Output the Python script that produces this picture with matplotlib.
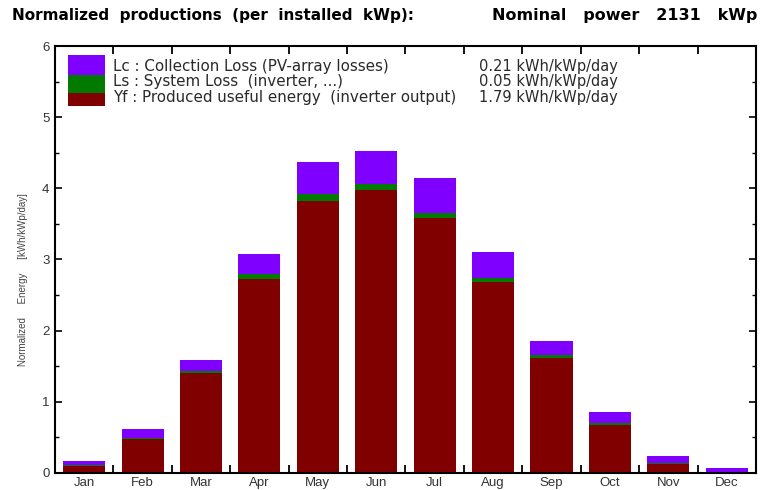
import numpy as np
import matplotlib.pyplot as plt
from matplotlib.patches import Rectangle

plt.rcParams['font.family'] = ['Liberation Sans', 'DejaVu Sans']

months = ["Jan", "Feb", "Mar", "Apr", "May", "Jun",
          "Jul", "Aug", "Sep", "Oct", "Nov", "Dec"]
# kWh/kWp/day
yf = [0.10, 0.47, 1.40, 2.73, 3.82, 3.97, 3.58, 2.68, 1.62, 0.67, 0.13, 0.01]
ls = [0.01, 0.02, 0.03, 0.06, 0.10, 0.09, 0.07, 0.06, 0.04, 0.03, 0.01, 0.00]
lc = [0.06, 0.12, 0.16, 0.29, 0.45, 0.47, 0.49, 0.37, 0.19, 0.15, 0.10, 0.06]

legend_labels = ["Lc : Collection Loss (PV-array losses)",
                 "Ls : System Loss  (inverter, ...)",
                 "Yf : Produced useful energy  (inverter output)"]
legend_values = ["0.21 kWh/kWp/day", "0.05 kWh/kWp/day", "1.79 kWh/kWp/day"]

title_left = "Normalized  productions  (per  installed  kWp):"
title_right = "Nominal   power   2131   kWp"

c_lc = "#8000ff"
c_ls = "#007a00"
c_yf = "#800000"

fig = plt.figure(figsize=(7.64, 4.90), dpi=100)
ax = fig.add_axes([0.072, 0.035, 0.9175, 0.871])

x = np.arange(len(months))
yf_a = np.array(yf)
ls_a = np.array(ls)
lc_a = np.array(lc)
w = 0.72
ax.bar(x, yf_a, w, color=c_yf, linewidth=0)
ax.bar(x, ls_a, w, bottom=yf_a, color=c_ls, linewidth=0)
ax.bar(x, lc_a, w, bottom=yf_a + ls_a, color=c_lc, linewidth=0)

ax.set_xlim(-0.5, 11.5)
ax.set_ylim(0, 6)

# month names centred under bars, tick marks on month boundaries
ax.set_xticks(np.arange(0.5, 11.5, 1.0))
ax.set_xticklabels([])
ax.set_xticks(x, minor=True)
ax.set_xticklabels(months, minor=True)
ax.tick_params(axis='x', which='major', direction='in', length=6, width=1.3,
               top=True, bottom=True)
ax.tick_params(axis='x', which='minor', length=0, pad=3, labelsize=9.5,
               labelcolor='#333333')

ax.set_yticks(range(0, 7))
ax.set_yticks(np.arange(0.5, 6, 1.0), minor=True)
ax.tick_params(axis='y', which='major', direction='in', length=5, width=1.2,
               left=True, right=True, labelsize=9.5, labelcolor='#333333', pad=4)
ax.tick_params(axis='y', which='minor', direction='in', length=3, width=1.0,
               left=True, right=True)

for s in ax.spines.values():
    s.set_linewidth(1.5)

# legend block drawn by hand: one swatch split in three colours
swatch_x, swatch_w = 0.0185, 0.0525
swatch_edges = [0.979, 0.932, 0.890, 0.859]
for i, col in enumerate([c_lc, c_ls, c_yf]):
    ax.add_patch(Rectangle((swatch_x, swatch_edges[i + 1]), swatch_w,
                           swatch_edges[i] - swatch_edges[i + 1],
                           transform=ax.transAxes, color=col, linewidth=0))
rows_y = [0.951, 0.916, 0.880]
for i in range(3):
    ax.text(0.083, rows_y[i], legend_labels[i], transform=ax.transAxes,
            fontsize=10.9, va='center', color='#2a2a2a', family='DejaVu Sans')
    ax.text(0.605, rows_y[i], legend_values[i], transform=ax.transAxes,
            fontsize=10.5, va='center', color='#2a2a2a', family='DejaVu Sans')

fig.text(12 / 764, 0.968, title_left, fontsize=11, fontweight='bold',
         va='center', ha='left', family='DejaVu Sans')
fig.text(757 / 764, 0.968, title_right, fontsize=11.5, fontweight='bold',
         va='center', ha='right', family='DejaVu Sans')

fig.text(0.030, 0.43, "Normalized     Energy     [kWh/kWp/day]", rotation=90,
         fontsize=7, va='center', ha='center', color='#444444')

fig.savefig("out.png", dpi=100)
